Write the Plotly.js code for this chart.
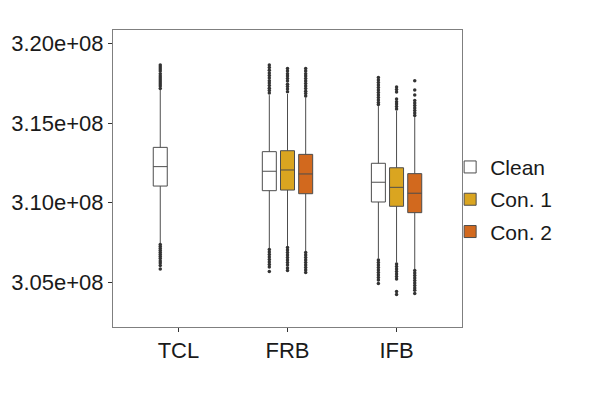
<!DOCTYPE html>
<html>
<head>
<meta charset="utf-8">
<script src="https://cdn.plot.ly/plotly-3.0.1.min.js"></script>
<style>
    html, body { margin: 0; padding: 0; background: #fff; }
    #chart { width: 598px; height: 398px; }
</style>
</head>
<body>
<div id="chart"></div>
<script>
// =========================================================================
// Boxplots of the three sample groups, precomputed quartiles + outliers
// =========================================================================

const groups = ["TCL", "FRB", "IFB"];
const series = ["Clean", "Con. 1", "Con. 2"];
const fills = ["#ffffff", "#daa520", "#d2691e"];

const yTickVals = [305e6, 310e6, 315e6, 320e6];
const yTickText = ["3.05e+08", "3.10e+08", "3.15e+08", "3.20e+08"];

// Clean : TCL, FRB, IFB
const cleanX = ["TCL", "FRB", "IFB"];
const cleanQ1 = [311.04e6, 310.75e6, 310.04e6];
const cleanMedian = [312.26e6, 311.97e6, 311.28e6];
const cleanQ3 = [313.47e6, 313.20e6, 312.47e6];
const cleanLow = [307.45e6, 307.13e6, 306.49e6];
const cleanHigh = [317.07e6, 316.75e6, 316.06e6];
const cleanOutliers = [
    [318.64e6, 318.51e6, 318.39e6, 318.26e6, 318.10e6, 317.95e6, 317.82e6, 317.70e6,
     317.57e6, 317.45e6, 317.32e6, 317.16e6,
     307.37e6, 307.25e6, 307.12e6, 307.00e6, 306.87e6, 306.74e6, 306.62e6, 306.49e6,
     306.34e6, 306.21e6, 306.05e6, 305.83e6],
    [318.64e6, 318.48e6, 318.32e6, 318.14e6, 317.98e6, 317.82e6, 317.66e6, 317.51e6,
     317.35e6, 317.19e6, 317.04e6, 316.88e6,
     307.06e6, 306.90e6, 306.74e6, 306.59e6, 306.43e6, 306.27e6, 306.12e6, 305.96e6,
     305.67e6],
    [317.85e6, 317.70e6, 317.54e6, 317.38e6, 317.23e6, 317.07e6, 316.91e6, 316.76e6,
     316.60e6, 316.44e6, 316.28e6, 316.16e6,
     306.40e6, 306.24e6, 306.09e6, 305.93e6, 305.77e6, 305.62e6, 305.46e6, 305.30e6,
     305.14e6, 304.92e6]
];

// Con. 1 : FRB, IFB
const con1X = ["FRB", "IFB"];
const con1Q1 = [310.79e6, 309.77e6];
const con1Median = [312.05e6, 310.96e6];
const con1Q3 = [313.26e6, 312.19e6];
const con1Low = [307.28e6, 306.24e6];
const con1High = [316.82e6, 315.75e6];
const con1Outliers = [
    [318.42e6, 318.26e6, 318.10e6, 317.95e6, 317.79e6, 317.63e6, 317.44e6, 317.29e6,
     317.13e6, 316.97e6,
     307.18e6, 307.03e6, 306.87e6, 306.71e6, 306.56e6, 306.40e6, 306.24e6, 306.09e6,
     305.90e6, 305.74e6],
    [317.26e6, 317.10e6, 316.94e6, 316.50e6, 316.34e6, 316.19e6, 316.03e6, 315.88e6,
     306.15e6, 305.99e6, 305.83e6, 305.68e6, 305.52e6, 305.36e6, 305.21e6,
     304.42e6, 304.23e6]
];

// Con. 2 : FRB, IFB
const con2X = ["FRB", "IFB"];
const con2Q1 = [310.56e6, 309.37e6];
const con2Median = [311.80e6, 310.59e6];
const con2Q3 = [313.03e6, 311.82e6];
const con2Low = [306.96e6, 305.83e6];
const con2High = [316.60e6, 315.37e6];
const con2Outliers = [
    [318.42e6, 318.26e6, 318.10e6, 317.95e6, 317.79e6, 317.63e6, 317.48e6, 317.32e6,
     317.16e6, 317.00e6, 316.85e6, 316.69e6,
     306.87e6, 306.71e6, 306.56e6, 306.40e6, 306.24e6, 306.09e6, 305.93e6, 305.77e6,
     305.62e6],
    [317.65e6, 317.07e6, 316.76e6, 316.41e6, 316.25e6, 316.10e6, 315.94e6, 315.78e6,
     315.63e6, 315.47e6,
     305.74e6, 305.58e6, 305.43e6, 305.27e6, 305.11e6, 304.96e6, 304.80e6, 304.64e6,
     304.49e6, 304.30e6]
];

// =========================================================================

const FONT = "Liberation Sans, Arial, Helvetica, sans-serif";

function boxTrace(name, fill, x, q1, median, q3, low, high, pts) {
    return {
        type: "box",
        name: name,
        legendgroup: name,
        x: x,
        y: pts,
        q1: q1,
        median: median,
        q3: q3,
        lowerfence: low,
        upperfence: high,
        fillcolor: fill,
        whiskerwidth: 0,
        boxpoints: "outliers",
        jitter: 0,
        pointpos: 0,
        line: { color: "#4d4d4d", width: 1 },
        marker: { color: "#333333", size: 3.5, line: { width: 0 } },
        hoverinfo: "skip"
    };
}

const data = [
    boxTrace(series[0], fills[0], cleanX, cleanQ1, cleanMedian, cleanQ3, cleanLow, cleanHigh, cleanOutliers),
    boxTrace(series[1], fills[1], con1X, con1Q1, con1Median, con1Q3, con1Low, con1High, con1Outliers),
    boxTrace(series[2], fills[2], con2X, con2Q1, con2Median, con2Q3, con2Low, con2High, con2Outliers)
];

const layout = {
    width: 598,
    height: 398,
    paper_bgcolor: "#ffffff",
    plot_bgcolor: "#ffffff",
    font: { family: FONT, size: 21, color: "#1a1a1a" },
    margin: { l: 113, r: 136, t: 30, b: 71, pad: 0 },
    boxmode: "group",
    boxgap: 0.5,
    boxgroupgap: 0.23,
    xaxis: {
        type: "category",
        categoryorder: "array",
        categoryarray: groups,
        range: [-0.6, 2.6],
        showgrid: false,
        zeroline: false,
        showline: true,
        mirror: true,
        linecolor: "#7f7f7f",
        linewidth: 1,
        ticks: "outside",
        ticklen: 4,
        tickwidth: 1,
        tickcolor: "#333333",
        tickfont: { family: FONT, size: 22, color: "#1a1a1a" }
    },
    yaxis: {
        range: [302.19e6, 320.84e6],
        tickvals: yTickVals,
        ticktext: yTickText,
        showgrid: false,
        zeroline: false,
        showline: true,
        mirror: true,
        linecolor: "#7f7f7f",
        linewidth: 1,
        ticks: "outside",
        ticklen: 4,
        tickwidth: 1,
        tickcolor: "#333333",
        tickfont: { family: FONT, size: 22, color: "#1a1a1a" }
    },
    legend: {
        x: 0.966,
        xanchor: "left",
        y: 0.43,
        yanchor: "middle",
        bgcolor: "rgba(0,0,0,0)",
        borderwidth: 0,
        traceorder: "grouped",
        tracegroupgap: 2,
        font: { family: FONT, size: 21, color: "#1a1a1a" }
    },
    showlegend: true
};

const config = { staticPlot: true, displayModeBar: false };

Plotly.newPlot("chart", data, layout, config);
</script>
</body>
</html>
